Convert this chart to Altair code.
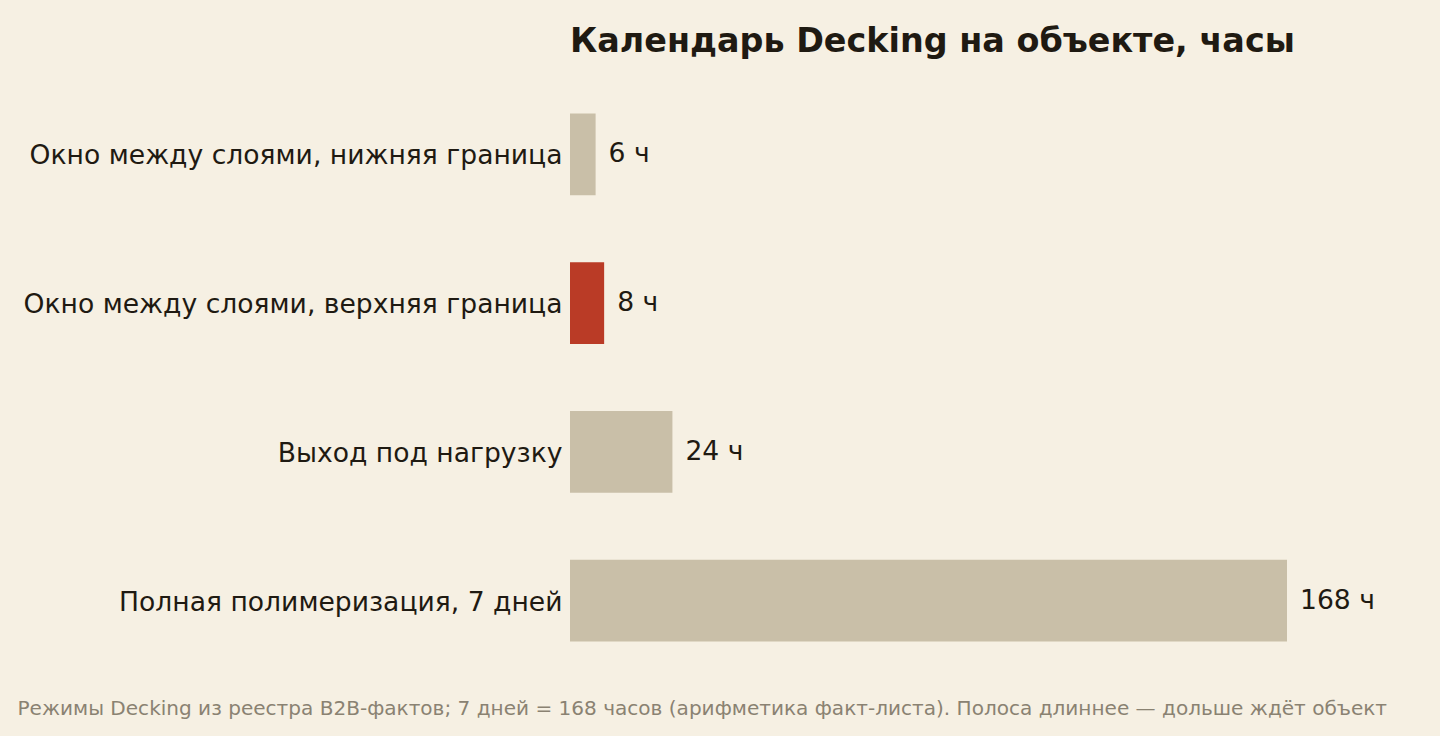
import altair as alt
import pandas as pd
import jinja2

categories = [
    "Окно между слоями, нижняя граница",
    "Окно между слоями, верхняя граница",
    "Выход под нагрузку",
    "Полная полимеризация, 7 дней",
]
hours = [6, 8, 24, 168]
highlight = "Окно между слоями, верхняя граница"

df = pd.DataFrame({"cat": categories, "hours": hours})
df["label"] = df["hours"].astype(str) + " ч"

FONT = "DejaVu Sans"
BG = "#F6F0E3"

y_enc = alt.Y("cat:N", sort=categories,
              scale=alt.Scale(paddingInner=0.45, paddingOuter=0.225),
              axis=alt.Axis(title=None, ticks=False, domain=False, labelFontSize=26.6,
                            labelColor="#1F1A12", labelFont=FONT, labelPadding=8,
                            labelLimit=0, labelOffset=2))
x_enc = alt.X("hours:Q", scale=alt.Scale(domain=[0, 168], nice=False),
              axis=alt.Axis(labels=False, ticks=False, domain=False, grid=False,
                            title="Режимы Decking из реестра B2B-фактов; 7 дней = 168 часов (арифметика факт-листа). Полоса длиннее — дольше ждёт объект",
                            titleFontSize=20.06, titleFont=FONT, titleColor="#8A8272",
                            titleFontWeight="normal", titleAnchor="start", titleAlign="left",
                            titleBaseline="middle", titleX=-553, titleY=33))

bars = alt.Chart(df).mark_bar().encode(
    x=x_enc, y=y_enc,
    color=alt.condition(alt.datum.cat == highlight, alt.value("#BA3B26"), alt.value("#C9BFA8")),
)
text = alt.Chart(df).mark_text(align="left", baseline="middle", dx=13, fontSize=26.6,
                               font=FONT, color="#1F1A12").encode(
    x="hours:Q", y=alt.Y("cat:N", sort=categories), text="label:N")

chart = (bars + text).properties(
    width=717, height=595,
    title=alt.TitleParams("Календарь Decking на объекте, часы", anchor="start", frame="group",
                          fontSize=33.4, font=FONT, fontWeight="bold", color="#1F1A12",
                          offset=21),
    background=BG,
    autosize=alt.AutoSizeParams(type="none"),
    padding={"left": 562, "top": 72, "right": 145, "bottom": 53},
).configure_view(strokeWidth=0)

PAGE = jinja2.Template("""<!DOCTYPE html>
<html>
<head>
<meta charset="utf-8">
<style>
  html, body { background: #F6F0E3; }
  #{{ output_div }}.vega-embed { width: 100%; display: flex; }
</style>
<script type="text/javascript" src="{{ base_url }}/vega@{{ vega_version }}"></script>
<script type="text/javascript" src="{{ base_url }}/vega-lite@{{ vegalite_version }}"></script>
<script type="text/javascript" src="{{ base_url }}/vega-embed@{{ vegaembed_version }}"></script>
</head>
<body>
<div id="{{ output_div }}"></div>
<script>
  (function(vegaEmbed) {
    var spec = {{ spec }};
    var embedOpt = {{ embed_options }};
    function showError(el, error){
      el.innerHTML = ('<div style="color:red;"><p>JavaScript Error: ' + error.message + '</p></div>');
      throw error;
    }
    const el = document.getElementById('{{ output_div }}');
    vegaEmbed("#{{ output_div }}", spec, embedOpt).catch(error => showError(el, error));
  })(vegaEmbed);
</script>
</body>
</html>
""")

chart.save("out.html", embed_options={"renderer": "svg", "actions": False}, template=PAGE)
